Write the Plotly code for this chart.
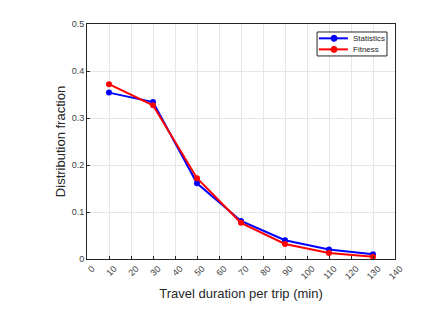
import plotly.graph_objects as go

durations = [10, 30, 50, 70, 90, 110, 130]
statistics = [0.354, 0.334, 0.161, 0.081, 0.040, 0.020, 0.010]
fitness = [0.372, 0.327, 0.172, 0.077, 0.032, 0.013, 0.005]
series_names = ["Statistics", "Fitness"]
series_colors = ["#0000ff", "#ff0000"]
x_ticks = list(range(0, 141, 10))
y_ticks = [0, 0.1, 0.2, 0.3, 0.4, 0.5]

FONT = "Liberation Sans, Arial"
fig = go.Figure()
for name, vals, col in zip(series_names, [statistics, fitness], series_colors):
    fig.add_trace(go.Scatter(x=durations, y=vals, mode="lines+markers", name=name,
                             line=dict(color=col, width=2),
                             marker=dict(symbol="circle", size=6, color=col)))

axis_common = dict(showline=True, linecolor="#262626", linewidth=1, mirror=True,
                   showgrid=True, gridcolor="#e6e6e6", gridwidth=1, zeroline=False,
                   ticks="inside", ticklen=3, tickcolor="#262626", automargin=False,
                   tickfont=dict(family=FONT, size=9, color="#404040"))

# Manual legend (MATLAB-like compact box)
shapes = [dict(type="rect", xref="paper", yref="paper", x0=0.747, x1=0.974, y0=0.864, y1=0.966,
               line=dict(color="#262626", width=1), fillcolor="white", layer="above")]
annotations = []
for i, (name, col) in enumerate(zip(series_names, series_colors)):
    yy = [0.939, 0.892][i]
    shapes.append(dict(type="line", xref="paper", yref="paper", x0=0.753, x1=0.847, y0=yy, y1=yy,
                       line=dict(color=col, width=2), layer="above"))
    shapes.append(dict(type="circle", xref="paper", yref="paper", xsizemode="pixel", ysizemode="pixel",
                       xanchor=0.802, yanchor=yy, x0=-3, x1=3, y0=-3, y1=3,
                       fillcolor=col, line=dict(color=col, width=1), layer="above"))
    annotations.append(dict(xref="paper", yref="paper", x=0.856, y=yy, text=name, showarrow=False,
                            xanchor="left", yanchor="middle",
                            font=dict(family=FONT, size=8, color="#262626")))

fig.update_layout(
    width=427, height=307,
    margin=dict(l=79, r=40, t=16, b=56),
    paper_bgcolor="white", plot_bgcolor="white",
    xaxis=dict(range=[0, 140], tickvals=x_ticks, ticktext=[str(v) for v in x_ticks], tickangle=-45,
               ticklabelshift=5,
               title=dict(text="Travel duration per trip (min)", standoff=8,
                          font=dict(family=FONT, size=13, color="#262626")),
               **axis_common),
    yaxis=dict(range=[0, 0.5], tickvals=y_ticks, ticktext=["0", "0.1", "0.2", "0.3", "0.4", "0.5"],
               title=dict(text="Distribution fraction", standoff=3,
                          font=dict(family=FONT, size=13, color="#262626")),
               **axis_common),
    shapes=shapes, annotations=annotations,
    showlegend=False,
)

fig.write_html("out.html")
